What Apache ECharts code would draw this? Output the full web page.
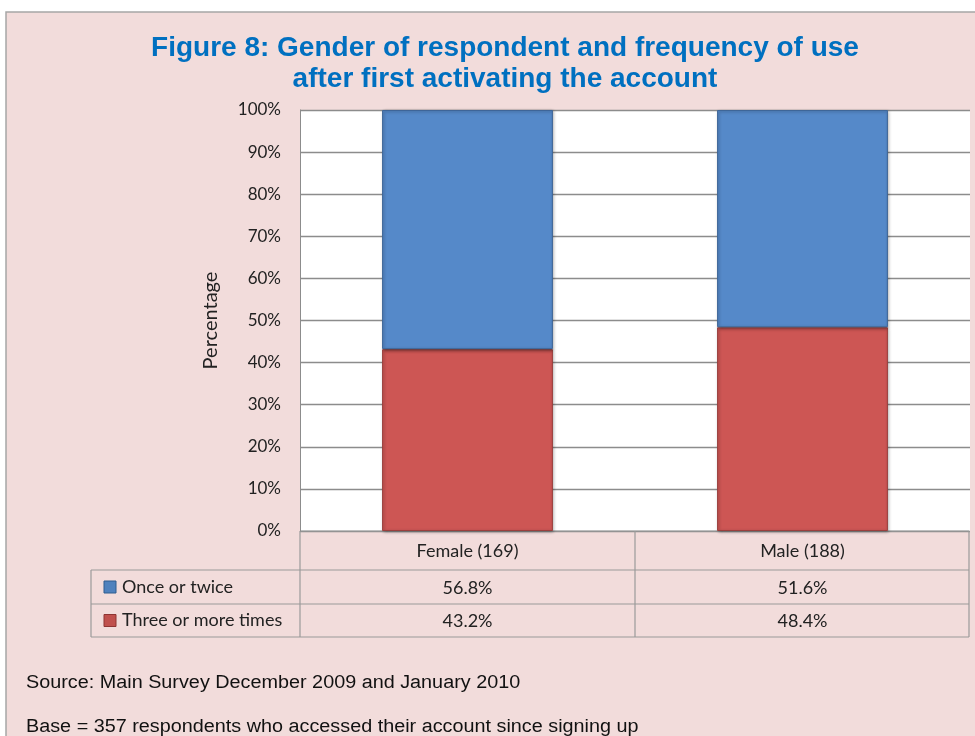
<!DOCTYPE html>
<html><head><meta charset="utf-8">
<script src="https://cdn.jsdelivr.net/npm/echarts@6.0.0/dist/echarts.min.js"></script>
<style>html,body{margin:0;padding:0;background:#fff}#c{width:975px;height:736px}</style>
</head><body><div id="c"></div>
<script>
const categories = ['Female (169)', 'Male (188)'];
const seriesNames = ['Once or twice', 'Three or more times'];
const onceOrTwice = [56.8, 51.6];
const threeOrMore = [43.2, 48.4];
const seriesColors = ['#5589C9', '#CD5654'];
const markerColors = ['#4F81BD', '#C0504D'];
const titleText = 'Figure 8: Gender of respondent and frequency of use\nafter first activating the account';
const sourceNote = 'Source: Main Survey December 2009 and January 2010';
const baseNote = 'Base = 357 respondents who accessed their account since signing up';

const chart = echarts.init(document.getElementById('c'), null, {renderer: 'canvas'});
const labelFont = 'Lato, "Open Sans", sans-serif';
const narrowFont = '"Liberation Sans Narrow", "Arial Narrow", "Liberation Sans", sans-serif';

const option = {
  backgroundColor: '#ffffff',
  animation: false,
  title: {
    text: titleText,
    left: 500, top: 28, textAlign: 'center',
    textStyle: {color: '#0070C0', fontSize: 28, fontWeight: 'bold', fontFamily: narrowFont, lineHeight: 31}
  },
  grid: {left: 300, right: 5, top: 110, bottom: 205, show: true, backgroundColor: '#ffffff', borderWidth: 0},
  xAxis: {
    type: 'category', data: categories,
    axisLine: {show: false}, axisTick: {show: false}, axisLabel: {show: false}
  },
  yAxis: {
    type: 'value', min: 0, max: 100, interval: 10,
    name: 'Percentage', nameLocation: 'middle', nameGap: 79, nameRotate: 90,
    nameTextStyle: {color: '#222', fontSize: 20, fontFamily: labelFont},
    axisLine: {show: true, lineStyle: {color: '#8c8c8c', width: 1}},
    axisTick: {show: false},
    axisLabel: {formatter: '{value}%', color: '#222', fontSize: 17, fontFamily: labelFont, margin: 19},
    splitLine: {show: true, lineStyle: {color: '#8c8c8c', width: 1.3}}
  },
  series: [
    {
      name: seriesNames[1], type: 'bar', stack: 'total', data: threeOrMore, barWidth: '51%',
      itemStyle: {color: seriesColors[1], borderColor: '#9a3f3d', borderWidth: 1, shadowColor: 'rgba(0,0,0,0.35)', shadowBlur: 3, shadowOffsetX: 1, shadowOffsetY: 1}
    },
    {
      name: seriesNames[0], type: 'bar', stack: 'total', data: onceOrTwice, barWidth: '51%',
      itemStyle: {color: seriesColors[0], borderColor: '#3e6698', borderWidth: 1, shadowColor: 'rgba(0,0,0,0.35)', shadowBlur: 3, shadowOffsetX: 1, shadowOffsetY: 1}
    }
  ]
};
chart.setOption(option);

// Build the data table below the plot from the arrays
const gridLeft = 300;
const y0 = chart.convertToPixel({yAxisIndex: 0}, 0);
const tableLeft = 91, tableRight = 969;
const rowH = [39, 34, 33];
const rowY = [y0, y0 + rowH[0], y0 + rowH[0] + rowH[1], y0 + rowH[0] + rowH[1] + rowH[2]];
const colCenters = categories.map((c, i) => chart.convertToPixel({xAxisIndex: 0}, i));
const colDivider = (colCenters[0] + colCenters[1]) / 2;
const lineStyle = {stroke: '#9a9a9a', lineWidth: 1.2};
const g = [];
g.push({type: 'rect', z: -10, shape: {x: 6, y: 12, width: 1100, height: 900}, style: {fill: '#F2DCDB', stroke: '#A6A6A6', lineWidth: 1.5}, silent: true});
g.push({type: 'line', shape: {x1: gridLeft, y1: rowY[0], x2: tableRight, y2: rowY[0]}, style: lineStyle});
g.push({type: 'line', shape: {x1: tableLeft, y1: rowY[1], x2: tableRight, y2: rowY[1]}, style: lineStyle});
g.push({type: 'line', shape: {x1: tableLeft, y1: rowY[2], x2: tableRight, y2: rowY[2]}, style: lineStyle});
g.push({type: 'line', shape: {x1: tableLeft, y1: rowY[3], x2: tableRight, y2: rowY[3]}, style: lineStyle});
g.push({type: 'line', shape: {x1: gridLeft, y1: rowY[0], x2: gridLeft, y2: rowY[3]}, style: lineStyle});
g.push({type: 'line', shape: {x1: colDivider, y1: rowY[0], x2: colDivider, y2: rowY[3]}, style: lineStyle});
g.push({type: 'line', shape: {x1: tableRight, y1: rowY[0], x2: tableRight, y2: rowY[3]}, style: lineStyle});
g.push({type: 'line', shape: {x1: tableLeft, y1: rowY[1], x2: tableLeft, y2: rowY[3]}, style: lineStyle});
const txt = (x, y, text, align) => ({type: 'text', x: x, y: y, style: {text: text, fill: '#222', font: '18px ' + labelFont, textAlign: align || 'center', textVerticalAlign: 'middle'}});
categories.forEach((c, i) => g.push(txt(colCenters[i], (rowY[0] + rowY[1]) / 2 + 1, c)));
const rowsData = [onceOrTwice, threeOrMore];
seriesNames.forEach((n, r) => {
  const cy = (rowY[r + 1] + rowY[r + 2]) / 2;
  g.push({type: 'rect', shape: {x: 104, y: cy - 6, width: 12, height: 12}, style: {fill: markerColors[r], stroke: r === 0 ? '#2f5d8f' : '#8e3432', lineWidth: 1}});
  g.push(txt(122, cy, n, 'left'));
  rowsData[r].forEach((v, i) => g.push(txt(colCenters[i], cy + 1, v.toFixed(1) + '%')));
});
g.push({type: 'text', x: 26, y: 683, scaleX: 1.1, style: {text: sourceNote, fill: '#111', font: '18px ' + narrowFont, textVerticalAlign: 'middle'}});
g.push({type: 'text', x: 26, y: 727, scaleX: 1.1, style: {text: baseNote, fill: '#111', font: '18px ' + narrowFont, textVerticalAlign: 'middle'}});
chart.setOption({graphic: g});
</script></body></html>
